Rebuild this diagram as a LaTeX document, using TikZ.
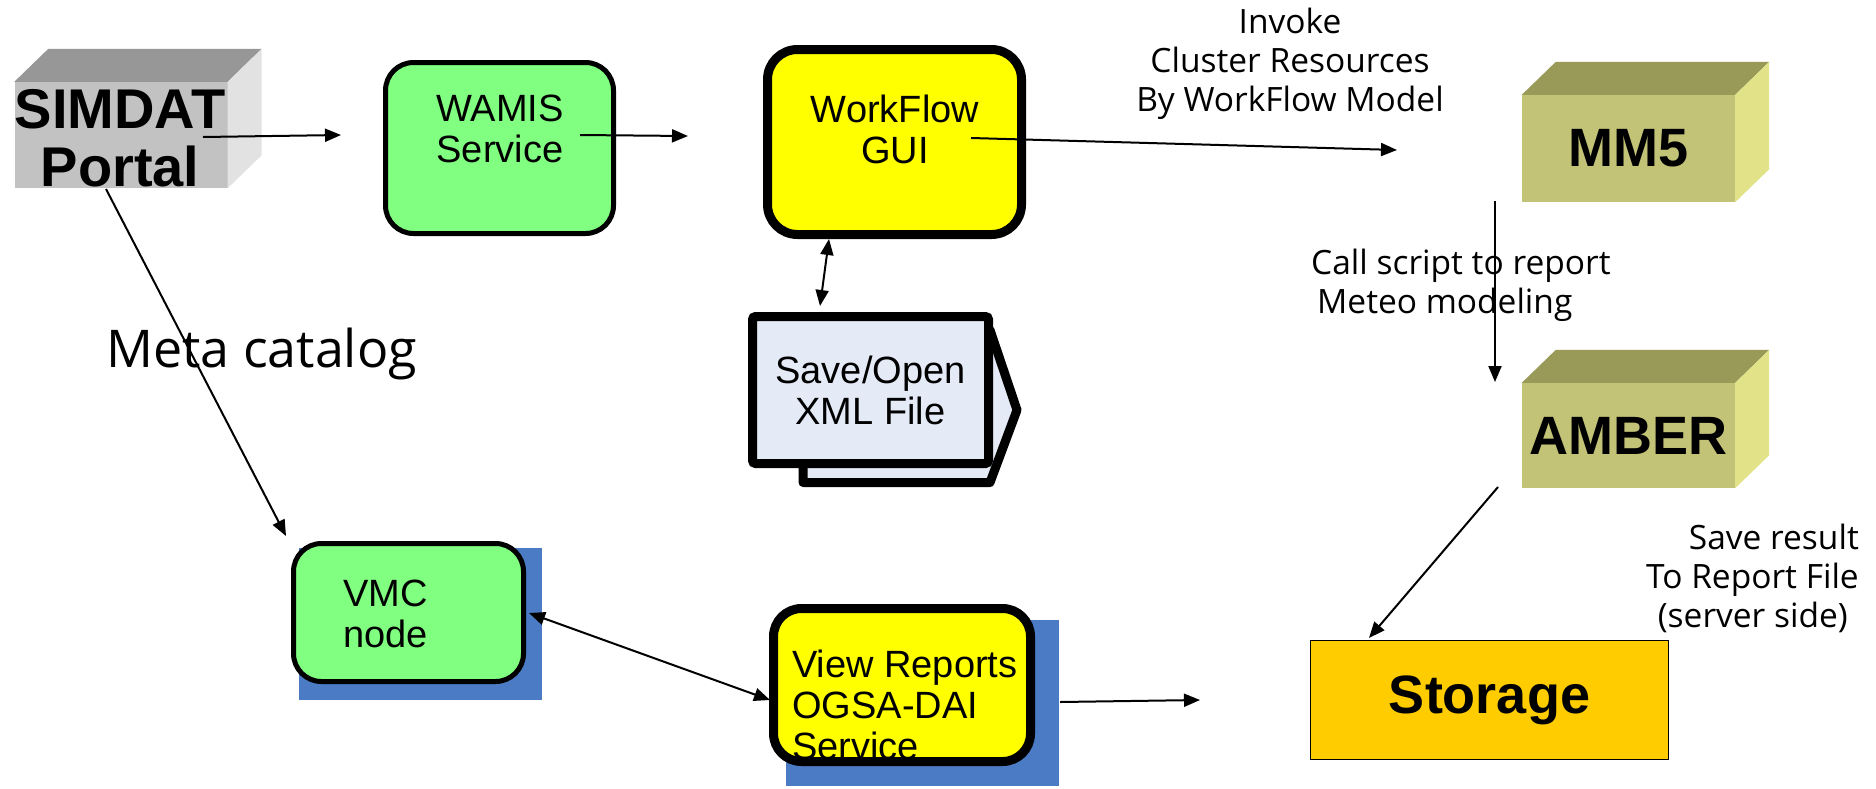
\documentclass[tikz,border=0pt]{standalone}
\usepackage{fontspec}
\setmainfont{Liberation Sans}
\newfontfamily\hum{Open Sans}
\usetikzlibrary{arrows.meta,calc}
\definecolor{boxgreen}{HTML}{80FF80}
\definecolor{boxyellow}{HTML}{FFFF00}
\definecolor{shadowblue}{HTML}{4A7BC4}
\definecolor{filepale}{HTML}{E4EAF6}
\definecolor{storagec}{HTML}{FFCC00}
\definecolor{grayfront}{HTML}{C2C2C2}
\definecolor{graytop}{HTML}{979797}
\definecolor{grayside}{HTML}{E2E2E2}
\definecolor{olivefront}{HTML}{C3C378}
\definecolor{olivetop}{HTML}{999958}
\definecolor{oliveside}{HTML}{E2E288}
\begin{document}
\begin{tikzpicture}[x=1pt,y=-1pt,
  arr/.style={line width=2pt,-{Triangle[length=16pt,width=13pt]}},
  darr/.style={line width=2pt,{Triangle[length=16pt,width=13pt]}-{Triangle[length=16pt,width=13pt]}},
  rbox/.style={draw,rounded corners=28pt,inner sep=0pt},
  big/.style={font=\fontsize{54}{57}\selectfont\bfseries,align=center},
  txt/.style={font=\fontsize{38}{41}\selectfont,align=center,inner sep=0pt},
  lbl/.style={font=\hum\fontsize{33.5}{39}\selectfont,inner sep=0pt},
  cubefront/.style={inner sep=0pt,minimum width=213pt,minimum height=106pt}
]
\useasboundingbox (0,0) rectangle (1876,788);

% ---------- SIMDAT cube ----------
\node[cubefront,fill=grayfront] (simdat) at (121,135) {};
\fill[graytop] (simdat.north west) -- ++(34,-33) -- ([shift={(34,-33)}]simdat.north east) -- (simdat.north east) -- cycle;
\fill[grayside] (simdat.north east) -- ++(34,-33) -- ([shift={(34,-33)}]simdat.south east) -- (simdat.south east) -- cycle;
\node[font=\fontsize{56}{58}\selectfont\bfseries,align=center,inner sep=0pt] (simdattext) at (120,138) {SIMDAT\\Portal};

% ---------- MM5 cube ----------
\node[cubefront,fill=olivefront,big,minimum height=107pt] (mm5) at (1628.5,148.5) {MM5};
\fill[olivetop] (mm5.north west) -- ++(34,-33) -- ([shift={(34,-33)}]mm5.north east) -- (mm5.north east) -- cycle;
\fill[oliveside] (mm5.north east) -- ++(34,-33) -- ([shift={(34,-33)}]mm5.south east) -- (mm5.south east) -- cycle;

% ---------- AMBER cube ----------
\node[cubefront,fill=olivefront,big,minimum height=105pt] (amber) at (1628.5,435.5) {AMBER};
\fill[olivetop] (amber.north west) -- ++(34,-33) -- ([shift={(34,-33)}]amber.north east) -- (amber.north east) -- cycle;
\fill[oliveside] (amber.north east) -- ++(34,-33) -- ([shift={(34,-33)}]amber.south east) -- (amber.south east) -- cycle;

% ---------- WAMIS ----------
\node[rbox,line width=5pt,fill=boxgreen,minimum width=228pt,minimum height=171pt] (wamis) at (499.5,148) {};
\node[txt] (wamistext) at (500,129) {WAMIS\\Service};

% ---------- WorkFlow GUI ----------
\node[rbox,line width=9pt,fill=boxyellow,minimum width=254pt,minimum height=185pt,rounded corners=30pt] (wf) at (894.5,142) {};
\node[txt] (wftext) at (895,129) {WorkFlow\\GUI};

% ---------- Save/Open XML File ----------
\draw[line width=9pt,line join=round,fill=filepale] (803,330) -- (990,330) -- (1017,410) -- (990,482.5) -- (803,482.5) -- cycle;
\node[draw,line width=9pt,fill=filepale,rounded corners=3pt,minimum width=236pt,minimum height=147pt,inner sep=0pt,txt] (xml) at (870.5,390) {Save/Open\\XML File};

% ---------- VMC node ----------
\fill[shadowblue] (299,548) rectangle (542,700);
\node[rbox,line width=5pt,fill=boxgreen,minimum width=230pt,minimum height=138pt] (vmc) at (408.5,612.5) {};
\node[txt,align=left,anchor=west] (vmctext) at (343,614) {VMC\\node};

% ---------- View Reports ----------
\fill[shadowblue] (786,620) rectangle (1059,786);
\node[rbox,line width=9pt,fill=boxyellow,minimum width=257pt,minimum height=153pt] (vr) at (902,685) {};
\node[txt,align=left,anchor=west] (vrtext) at (792,705) {View Reports\\OGSA-DAI\\Service};

% ---------- Storage ----------
\node[draw,line width=1.5pt,fill=storagec,minimum width=358pt,minimum height=119pt,inner sep=0pt,big] (storage) at (1489.5,700) {Storage};

% ---------- labels ----------
\node[lbl,align=center] (invoke) at (1290,63.5) {Invoke\\Cluster Resources\\By WorkFlow Model};
\node[lbl,align=left,anchor=west] (callscript) at (1311,285) {Call script to report\\\hspace*{6pt}Meteo modeling};
\node[lbl,align=right,anchor=east] (saveresult) at (1859,578.5) {Save result\\To Report File\\(server side)\hspace*{11pt}};
\node[font=\hum\fontsize{52}{56}\selectfont,inner sep=0pt,anchor=base west] (meta) at (106,367) {Meta catalog};

% ---------- connector end points ----------
\coordinate (c1s) at (203,137);
\coordinate (c1e) at (341,135);
\coordinate (c2s) at (580,135);
\coordinate (c2e) at (688,136);
\coordinate (c3s) at (971,138);
\coordinate (c3e) at (1397,150);
\coordinate (c4s) at (1495,201);
\coordinate (c4e) at (1495,382);
\coordinate (c5s) at (1498,487);
\coordinate (c5e) at (1369,638);
\coordinate (c6s) at (829,239);
\coordinate (c6e) at (820,306);
\coordinate (c7s) at (106,189);
\coordinate (c7e) at (286,536);
\coordinate (c8s) at (529,613);
\coordinate (c8e) at (770,700);
\coordinate (c9s) at (1060,702);
\coordinate (c9e) at (1200,700);

\draw[arr] (c1s) -- (c1e);
\draw[arr] (c2s) -- (c2e);
\draw[arr] (c3s) -- (c3e);
\draw[arr] (c4s) -- (c4e);
\draw[arr] (c5s) -- (c5e);
\draw[darr] (c6s) -- (c6e);
\draw[arr] (c7s) -- (c7e);
\draw[darr] (c8s) -- (c8e);
\draw[arr] (c9s) -- (c9e);
\end{tikzpicture}
\end{document}
